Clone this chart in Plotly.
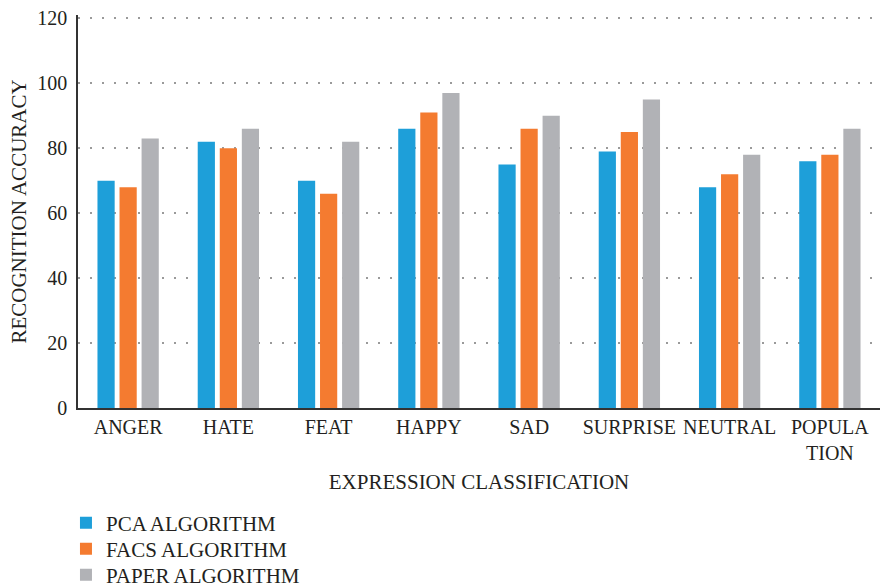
import plotly.graph_objects as go

categories = ["ANGER", "HATE", "FEAT", "HAPPY", "SAD", "SURPRISE", "NEUTRAL", "POPULA<br>TION"]
pca = [70, 82, 70, 86, 75, 79, 68, 76]
facs = [68, 80, 66, 91, 86, 85, 72, 78]
paper = [83, 86, 82, 97, 90, 95, 78, 86]
series_names = ["PCA ALGORITHM", "FACS ALGORITHM", "PAPER ALGORITHM"]
colors = ["#1e9fd9", "#f47b30", "#b1b2b6"]
y_ticks = [0, 20, 40, 60, 80, 100, 120]

FONT = "Liberation Serif"
TXT = "#231f20"
FS = 20
FS_BIG = 21

legend_ids = ["legend", "legend2", "legend3"]
legend_rows_px = [523, 549, 575]
PLOT_BOTTOM, PLOT_H = 408, 393

fig = go.Figure()
for name, vals, col, lg in zip(series_names, [pca, facs, paper], colors, legend_ids):
    fig.add_trace(go.Bar(x=categories, y=vals, name=name, marker_color=col,
                         marker_line_width=0, legend=lg))

legend_common = dict(orientation="v", x=-0.015, xanchor="left", yanchor="middle",
                     font=dict(family=FONT, size=FS_BIG, color=TXT),
                     itemwidth=30, bgcolor="rgba(0,0,0,0)")
legend_layout = {}
for lg, ypx in zip(legend_ids, legend_rows_px):
    legend_layout[lg] = dict(legend_common, y=(PLOT_BOTTOM - ypx) / PLOT_H)

fig.update_layout(
    width=880, height=587,
    margin=dict(l=78, r=0, t=15, b=179, autoexpand=False),
    paper_bgcolor="white", plot_bgcolor="white",
    barmode="group", bargap=0.34, bargroupgap=0.22,
    font=dict(family=FONT, size=FS, color=TXT),
    showlegend=True,
    **legend_layout,
)
fig.update_xaxes(
    automargin=False,
    showline=True, linecolor="#333333", linewidth=1.5,
    showgrid=False, ticks="", tickfont=dict(family=FONT, size=FS, color=TXT),
    title=dict(text="EXPRESSION CLASSIFICATION", font=dict(family=FONT, size=FS_BIG, color=TXT), standoff=12),
)
fig.update_yaxes(
    automargin=False,
    range=[0, 121], tickvals=y_ticks, ticktext=[str(v) for v in y_ticks],
    showline=True, linecolor="#333333", linewidth=1.5,
    showgrid=True, gridcolor="#9a9a9a", gridwidth=2, griddash="2px,10px",
    zeroline=False, ticks="", ticklabelstandoff=5,
    tickfont=dict(family=FONT, size=FS, color=TXT),
    title=dict(text="RECOGNITION ACCURACY", font=dict(family=FONT, size=FS_BIG, color=TXT), standoff=5),
)

fig.write_html("out.html", config={"displayModeBar": False},
               post_script="document.body.style.margin='0';")
